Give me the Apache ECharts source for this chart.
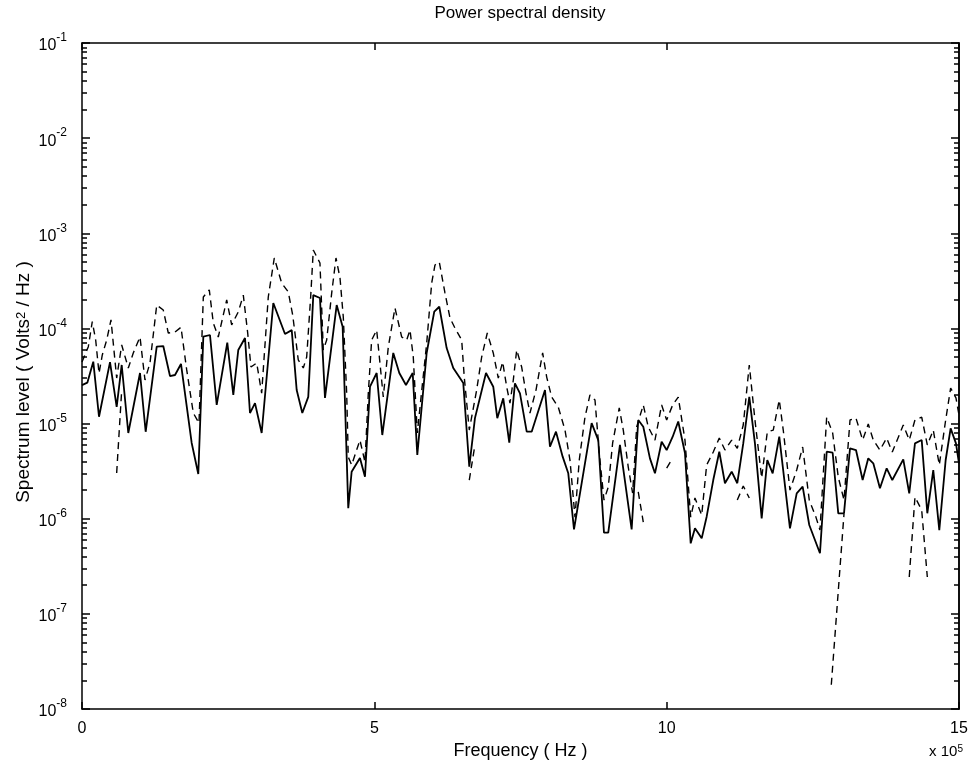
<!DOCTYPE html>
<html>
<head>
<meta charset="utf-8">
<script src="https://cdn.jsdelivr.net/npm/echarts@6/dist/echarts.min.js"></script>
<style>
html,body{margin:0;padding:0;background:#fff;}
#chart{width:974px;height:768px;}
</style>
</head>
<body>
<div id="chart"></div>
<script>
// Frequency in units of 10^5 Hz
const freqSolid = [0,0.091,0.193,0.291,0.479,0.593,0.679,0.792,0.992,1.089,1.278,1.390,1.505,1.591,1.693,1.876,1.989,2.075,2.189,2.304,2.485,2.588,2.673,2.788,2.873,2.959,3.073,3.272,3.472,3.587,3.672,3.768,3.870,3.956,4.070,4.156,4.356,4.458,4.554,4.612,4.754,4.840,4.926,5.040,5.136,5.324,5.427,5.541,5.656,5.735,5.895,6.025,6.111,6.237,6.350,6.521,6.624,6.721,6.910,7.034,7.103,7.205,7.308,7.405,7.491,7.606,7.691,7.919,8.004,8.107,8.221,8.317,8.415,8.717,8.830,8.928,9.001,9.201,9.401,9.514,9.600,9.714,9.800,9.914,10.000,10.103,10.198,10.313,10.411,10.484,10.599,10.684,10.797,10.900,10.997,11.112,11.208,11.310,11.413,11.510,11.625,11.721,11.813,11.926,12.109,12.224,12.326,12.439,12.622,12.737,12.839,12.935,13.033,13.136,13.238,13.352,13.448,13.534,13.648,13.763,13.859,14.047,14.149,14.247,14.362,14.458,14.560,14.663,14.772,14.857,14.948,15.0];
const psdSolid = [2.54e-5,2.69e-5,4.47e-5,1.18e-5,4.43e-5,1.50e-5,4.13e-5,7.96e-6,3.40e-5,8.2e-6,6.43e-5,6.53e-5,3.16e-5,3.24e-5,4.23e-5,6.25e-6,2.95e-6,8.18e-5,8.53e-5,1.57e-5,7.08e-5,2.0e-5,5.93e-5,7.93e-5,1.29e-5,1.64e-5,7.96e-6,1.85e-4,8.73e-5,9.6e-5,2.25e-5,1.29e-5,1.91e-5,2.24e-4,2.09e-4,1.86e-5,1.76e-4,1.04e-4,1.29e-6,3.12e-6,4.35e-6,2.76e-6,2.44e-5,3.40e-5,7.58e-6,5.52e-5,3.40e-5,2.54e-5,3.40e-5,4.68e-6,5.52e-5,1.50e-4,1.69e-4,6.22e-5,3.84e-5,2.67e-5,3.52e-6,1.14e-5,3.40e-5,2.44e-5,1.14e-5,1.84e-5,6.29e-6,2.65e-5,2.08e-5,8.22e-6,8.22e-6,2.25e-5,5.71e-6,8.22e-6,4.49e-6,3.0e-6,7.73e-7,1.01e-5,6.71e-6,7.13e-7,7.13e-7,5.96e-6,7.73e-7,1.09e-5,9.27e-6,4.31e-6,3.0e-6,6.44e-6,5.27e-6,7.28e-6,1.05e-5,4.91e-6,5.51e-7,7.93e-7,6.22e-7,1.05e-6,2.55e-6,5.06e-6,2.36e-6,3.12e-6,2.36e-6,6.19e-6,1.91e-5,6.19e-6,1.01e-6,4.14e-6,3.0e-6,7.28e-6,7.93e-7,1.85e-6,2.17e-6,8.59e-7,4.33e-7,5.06e-6,4.94e-6,1.14e-6,1.14e-6,5.5e-6,5.27e-6,2.55e-6,4.31e-6,3.82e-6,2.09e-6,3.39e-6,2.55e-6,4.21e-6,1.85e-6,6.19e-6,6.71e-6,1.14e-6,3.25e-6,7.6e-7,4.14e-6,8.91e-6,6.19e-6,3.82e-6];

const freqUpper = [0,0.108,0.176,0.234,0.291,0.347,0.422,0.496,0.593,0.679,0.792,0.877,0.992,1.077,1.163,1.278,1.390,1.476,1.591,1.693,1.791,1.904,2.001,2.075,2.177,2.246,2.331,2.475,2.560,2.673,2.759,2.834,2.890,2.988,3.073,3.186,3.289,3.415,3.528,3.604,3.699,3.785,3.843,3.911,3.956,4.070,4.127,4.185,4.271,4.344,4.413,4.469,4.527,4.554,4.612,4.754,4.840,4.897,4.954,5.040,5.096,5.153,5.239,5.353,5.468,5.553,5.610,5.666,5.735,5.896,5.981,6.037,6.111,6.208,6.294,6.379,6.494,6.538,6.624,6.750,6.836,6.932,7.034,7.120,7.195,7.264,7.320,7.377,7.435,7.520,7.594,7.662,7.765,7.879,7.948,8.033,8.146,8.261,8.346,8.432,8.505,8.603,8.688,8.774,8.847,8.928,9.001,9.076,9.189,9.258,9.343,9.418,9.487,9.600,9.685,9.800,9.914,10.000,10.103,10.198,10.313,10.411,10.484,10.599,10.684,10.797,10.900,10.997,11.112,11.208,11.310,11.413,11.510,11.625,11.721,11.823,11.926,11.994,12.109,12.224,12.326,12.439,12.553,12.622,12.737,12.839,12.935,13.033,13.136,13.238,13.352,13.448,13.534,13.648,13.763,13.859,14.047,14.149,14.247,14.362,14.458,14.560,14.663,14.772,14.857,14.948,15.0];
const psdUpper = [4.44e-5,6.43e-5,1.18e-4,7.55e-5,3.37e-5,5.26e-5,7.55e-5,1.23e-4,3.01e-5,6.70e-5,3.84e-5,5.52e-5,8.13e-5,2.87e-5,4.34e-5,1.76e-4,1.56e-4,8.95e-5,9.17e-5,1.03e-4,3.66e-5,1.29e-5,1.01e-5,2.14e-4,2.54e-4,1.14e-4,8.13e-5,1.99e-4,1.09e-4,1.49e-4,2.24e-4,8.95e-5,3.93e-5,4.34e-5,2.09e-5,2.14e-4,5.50e-4,3.00e-4,2.42e-4,1.38e-4,4.66e-5,3.84e-5,5.01e-5,2.14e-4,6.67e-4,4.87e-4,5.93e-5,7.55e-5,2.36e-4,5.50e-4,3.39e-4,1.32e-4,2.09e-5,4.45e-6,3.67e-6,6.71e-6,3.94e-6,2.09e-5,7.55e-5,9.62e-5,4.34e-5,1.90e-5,6.38e-5,1.64e-4,8.13e-5,7.55e-5,9.62e-5,5.01e-5,7.96e-6,7.03e-5,3.00e-4,4.64e-4,4.99e-4,2.36e-4,1.29e-4,1.01e-4,7.55e-5,3.08e-5,8.55e-6,2.25e-5,5.01e-5,8.95e-5,5.52e-5,3.01e-5,4.44e-5,2.42e-5,1.64e-5,2.87e-5,5.93e-5,3.93e-5,2.09e-5,1.29e-5,2.25e-5,5.52e-5,3.08e-5,1.90e-5,1.49e-5,8.55e-6,4.14e-6,1.04e-6,4.14e-6,1.17e-5,2.0e-5,1.77e-5,4.91e-6,1.57e-6,2.15e-6,6.25e-6,1.46e-5,8.55e-6,3.49e-6,1.86e-6,9.2e-6,1.57e-5,9.2e-6,6.71e-6,1.57e-5,1.09e-5,1.57e-5,1.90e-5,6.71e-6,1.04e-6,1.65e-6,1.09e-6,3.67e-6,5.02e-6,7.05e-6,5.27e-6,6.71e-6,5.5e-6,9.66e-6,4.13e-5,1.09e-5,2.68e-6,8.15e-6,8.55e-6,1.77e-5,8.55e-6,2.0e-6,3.25e-6,5.67e-6,1.57e-6,1.04e-6,7.6e-7,1.17e-5,7.96e-6,2.74e-6,1.57e-6,1.09e-5,1.14e-5,6.71e-6,9.89e-6,6.71e-6,5.27e-6,7.05e-6,5.02e-6,9.66e-6,6.71e-6,1.09e-5,1.17e-5,5.96e-6,8.55e-6,3.67e-6,1.09e-5,2.36e-5,1.86e-5,1.23e-5];

// lower confidence bound: only positive stretches are visible (null = not drawn)
const freqLower = [0.593,0.679,0.792,6.521,6.624,6.721,6.910,9.401,9.514,9.600,9.714,9.914,10.000,10.103,10.198,11.112,11.208,11.310,11.413,11.510,12.737,12.816,13.033,13.136,14.047,14.149,14.247,14.362,14.458,14.560];
const psdLower = [3.02e-6,2.25e-5,null,null,2.55e-6,5.96e-6,null,null,1.91e-6,9.23e-7,null,null,3.41e-6,4.35e-6,null,null,1.57e-6,2.21e-6,1.65e-6,null,null,1.8e-8,1.12e-6,null,null,2.44e-7,1.69e-6,1.23e-6,2.44e-7,null];

const xTicks = [0, 5, 10, 15];
const yDecades = [-8, -7, -6, -5, -4, -3, -2, -1];

const FONT = '"Liberation Sans", Arial, Helvetica, sans-serif';
const pairs = (xs, ys) => xs.map((x, i) => [x, ys[i] == null ? '-' : ys[i]]);
const minorLogs = [];
for (let k = yDecades[0]; k < yDecades[yDecades.length - 1]; k++) {
  for (let m = 2; m <= 9; m++) minorLogs.push(k + Math.log10(m));
}

const chart = echarts.init(document.getElementById('chart'), null, {renderer: 'canvas'});
const tickStyle = {color: '#000', width: 1.5};
const frameLine = {color: '#000', width: 1.5};
const hiddenLogY = (pos, len, custom) => ({
  type: 'value', min: yDecades[0], max: yDecades[yDecades.length - 1], interval: 1,
  position: pos, gridIndex: 0,
  axisLine: {show: pos === 'right', onZero: false, lineStyle: frameLine},
  axisTick: Object.assign({show: true, inside: true, length: len, lineStyle: tickStyle}, custom ? {customValues: custom} : {}),
  axisLabel: {show: false}, splitLine: {show: false}
});

chart.setOption({
  animation: false,
  backgroundColor: '#fff',
  grid: {left: 82, right: 15, top: 43, bottom: 59, containLabel: false},
  xAxis: [{
    type: 'value', min: xTicks[0], max: xTicks[xTicks.length - 1], interval: 5,
    position: 'bottom',
    axisLine: {show: true, onZero: false, lineStyle: frameLine},
    axisTick: {show: true, inside: true, length: 7, lineStyle: tickStyle},
    axisLabel: {show: true, color: '#000', fontSize: 16, fontFamily: FONT, margin: 12,
      showMinLabel: true, showMaxLabel: true},
    splitLine: {show: false},
    name: 'Frequency ( Hz )', nameLocation: 'middle', nameGap: 23,
    nameTextStyle: {color: '#000', fontSize: 18, fontFamily: FONT}
  }, {
    type: 'value', min: xTicks[0], max: xTicks[xTicks.length - 1], interval: 5,
    position: 'top',
    axisLine: {show: true, onZero: false, lineStyle: frameLine},
    axisTick: {show: true, inside: true, length: 7, lineStyle: tickStyle},
    axisLabel: {show: false}, splitLine: {show: false}
  }],
  yAxis: [{
    type: 'log', logBase: 10, min: Math.pow(10, yDecades[0]), max: Math.pow(10, yDecades[yDecades.length - 1]),
    splitNumber: 7, position: 'left',
    axisLine: {show: true, onZero: false, lineStyle: frameLine},
    axisTick: {show: true, inside: true, length: 8, lineStyle: tickStyle},
    axisLabel: {
      show: true, margin: 15, color: '#000', fontFamily: FONT,
      formatter: v => '{b|10}{s|' + Math.round(Math.log10(v)) + '}',
      rich: {
        b: {fontSize: 16, fontFamily: FONT, color: '#000', lineHeight: 22, verticalAlign: 'bottom'},
        s: {fontSize: 12, fontFamily: FONT, color: '#000', lineHeight: 12, verticalAlign: 'top'}
      }
    },
    splitLine: {show: false}
  },
    hiddenLogY('left', 5, minorLogs),
    hiddenLogY('right', 8, null),
    hiddenLogY('right', 5, minorLogs)
  ],
  graphic: [{
    type: 'text', x: 520, y: 13,
    style: {text: 'Power spectral density', font: '17px ' + FONT, fill: '#000', textAlign: 'center', textVerticalAlign: 'middle'}
  }, {
    type: 'text', x: 24, y: 382, rotation: Math.PI / 2,
    style: {text: 'Spectrum level ( Volts{sup|2} / Hz )', font: '19px ' + FONT, fill: '#000',
      textAlign: 'center', textVerticalAlign: 'middle',
      rich: {sup: {fontSize: 13, fontFamily: FONT, fill: '#000', verticalAlign: 'top', lineHeight: 10}}}
  }, {
    type: 'text', x: 963, y: 752,
    style: {text: 'x 10{s|5}', font: '15px ' + FONT, fill: '#000', textAlign: 'right', textVerticalAlign: 'middle',
      rich: {s: {fontSize: 10, fontFamily: FONT, fill: '#000', verticalAlign: 'top', lineHeight: 10}}}
  }],
  series: [{
    type: 'line', name: 'PSD', xAxisIndex: 0, yAxisIndex: 0,
    data: pairs(freqSolid, psdSolid), showSymbol: false, symbol: 'none',
    lineStyle: {color: '#000', width: 1.8, type: 'solid'}, clip: true
  }, {
    type: 'line', name: 'Upper', xAxisIndex: 0, yAxisIndex: 0,
    data: pairs(freqUpper, psdUpper), showSymbol: false, symbol: 'none',
    lineStyle: {color: '#000', width: 1.4, type: [7, 5]}, clip: true
  }, {
    type: 'line', name: 'Lower', xAxisIndex: 0, yAxisIndex: 0,
    data: pairs(freqLower, psdLower), showSymbol: false, symbol: 'none', connectNulls: false,
    lineStyle: {color: '#000', width: 1.4, type: [7, 5]}, clip: true
  }]
});
</script>
</body>
</html>
